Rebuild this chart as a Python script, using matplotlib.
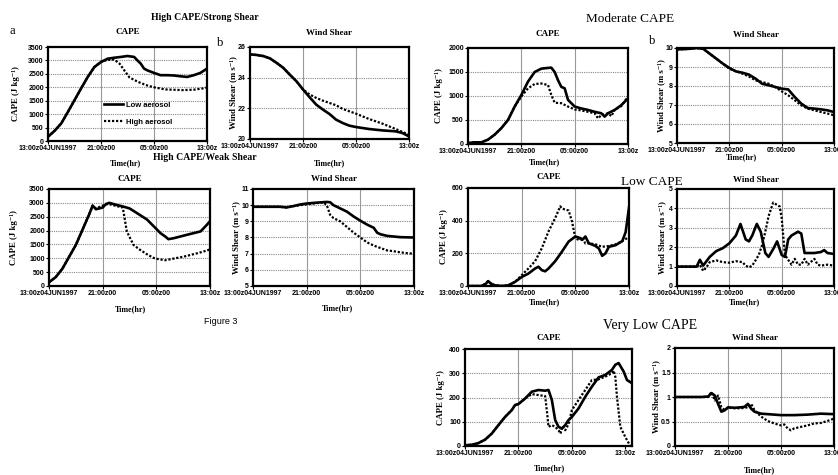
import matplotlib
matplotlib.use("Agg")
import matplotlib.pyplot as plt
from matplotlib.lines import Line2D

W, H = 838, 475

# ---------------- data ----------------
xtick_hours = [0, 8, 16, 24]
xtick_labels = ["13:00z04JUN1997", "21:00z00", "05:00z00", "13:00z"]

# High CAPE / Strong Shear - CAPE
hsc_low_t = [0, 1, 2, 3, 4, 5, 6, 7, 8, 9, 10, 11, 12, 13, 13.5, 14, 14.5, 15, 16, 17, 18, 19, 20, 21, 22, 23, 24]
hsc_low_v = [160, 380, 655, 1080, 1520, 1960, 2385, 2755, 2940, 3065, 3100, 3130, 3165, 3130, 3000, 2880, 2695, 2630,
             2535, 2450, 2450, 2440, 2410, 2385, 2450, 2535, 2695]
hsc_high_t = [0, 1, 2, 3, 4, 5, 6, 7, 8, 9, 10, 10.8, 11.5, 12.3, 13.6, 15.1, 16.2, 17.7, 20.3, 22, 23.3, 24]
hsc_high_v = [160, 380, 655, 1080, 1520, 1960, 2385, 2755, 2950, 3020, 3030, 2880, 2635, 2365, 2200, 2055, 1990, 1920,
              1895, 1910, 1955, 1990]

# High CAPE / Strong Shear - Wind shear
hss_low_t = [0, 1, 2, 3, 4, 5, 6, 7, 8, 9, 10, 11, 12, 13, 14, 15, 16, 18, 20, 22, 23, 24]
hss_low_v = [25.52, 25.48, 25.41, 25.26, 24.97, 24.65, 24.2, 23.77, 23.23, 22.72, 22.24, 21.92, 21.63, 21.26, 21.04,
             20.87, 20.78, 20.65, 20.56, 20.5, 20.39, 20.17]
hss_high_t = [0, 1, 2, 3, 4, 5, 6, 7, 8, 9, 10, 11, 12, 13, 14, 16, 18, 20, 22, 24]
hss_high_v = [25.52, 25.48, 25.41, 25.26, 24.97, 24.65, 24.2, 23.77, 23.23, 22.9, 22.68, 22.5, 22.35, 22.2, 21.96,
              21.65, 21.3, 21.0, 20.65, 20.28]

# Moderate CAPE - CAPE
mc_low_t = [0, 1, 2, 3, 4, 5, 6, 7, 8, 9, 10, 11, 12, 12.5, 13, 13.5, 14, 14.5, 15, 16, 17, 18, 19, 20, 20.5, 21, 22,
            23, 24]
mc_low_v = [20, 35, 35, 90, 195, 330, 500, 780, 1020, 1300, 1500, 1570, 1585, 1590, 1500, 1330, 1190, 1160, 920, 780,
            740, 710, 670, 640, 570, 640, 710, 810, 950]
mc_high_t = [0, 1, 2, 3, 4, 5, 6, 7, 8, 9, 10, 11, 12, 12.5, 13, 14, 15, 16, 17, 18, 19, 19.5, 20, 21, 21.5, 22, 23, 24]
mc_high_v = [20, 35, 35, 90, 195, 330, 500, 780, 990, 1160, 1250, 1260, 1230, 1020, 860, 850, 780, 720, 700, 670, 640,
             535, 600, 640, 580, 710, 790, 990]

# Moderate CAPE - Wind shear
ms_low_t = [0, 1, 2, 3, 4, 5, 6, 7, 8, 9, 10, 11, 12, 13, 14, 15, 16, 17, 18, 19, 20, 21, 22, 23, 24]
ms_low_v = [9.93, 9.94, 9.96, 10, 9.96, 9.7, 9.44, 9.18, 8.95, 8.77, 8.7, 8.6, 8.39, 8.12, 8.04, 7.95, 7.86, 7.82,
            7.42, 7.07, 6.84, 6.81, 6.77, 6.72, 6.63]
ms_high_t = [0, 1, 2, 3, 4, 5, 6, 7, 8, 9, 10, 11, 12, 13, 14, 15, 16, 17, 18, 19, 20, 21, 22, 23, 24]
ms_high_v = [9.93, 9.94, 9.96, 10, 9.96, 9.7, 9.44, 9.18, 8.91, 8.78, 8.65, 8.5, 8.3, 8.21, 8.12, 7.95, 7.72, 7.51,
             7.25, 6.98, 6.81, 6.72, 6.63, 6.55, 6.46]

# High CAPE / Weak Shear - CAPE
hwc_low_t = [0, 1, 2, 3, 4, 5, 6, 6.5, 7, 7.5, 8, 8.5, 9, 10, 11, 12, 12.6, 14.6, 16.1, 16.6, 17.3, 17.8, 18.6, 20.6,
             22.6, 23.5, 24]
hwc_low_v = [135, 320, 625, 1054, 1480, 2035, 2590, 2900, 2770, 2800, 2830, 2960, 3000, 2930, 2870, 2800, 2710, 2400,
             2035, 1910, 1790, 1690, 1725, 1850, 1970, 2200, 2340]
hwc_high_t = [0, 1, 2, 3, 4, 5, 6, 6.5, 7, 7.5, 8, 8.5, 9, 10, 11, 11.6, 12.6, 13.6, 14.8, 15.8, 17.3, 18, 19, 20, 21,
              22, 23, 24]
hwc_high_v = [135, 320, 625, 1054, 1480, 2035, 2590, 2900, 2800, 2850, 2900, 2950, 2950, 2890, 2830, 1970, 1480, 1300,
              1115, 990, 930, 960, 1010, 1054, 1115, 1175, 1240, 1320]

# High CAPE / Weak Shear - Wind shear
hws_low_t = [0, 2, 4, 5, 6, 7, 8, 9, 10, 11, 11.5, 12, 13, 14, 15, 16, 17, 18, 18.5, 19, 20, 21, 22, 24]
hws_low_v = [9.9, 9.9, 9.9, 9.86, 9.94, 10.04, 10.1, 10.14, 10.17, 10.2, 10.18, 10.0, 9.8, 9.6, 9.3, 9.04, 8.8, 8.6,
             8.3, 8.2, 8.1, 8.06, 8.02, 8.0]
hws_high_t = [0, 2, 4, 5, 6, 7, 8, 9, 10, 10.5, 11, 11.5, 12, 13, 14, 15, 16, 17, 18, 19, 20, 21, 22, 23, 24]
hws_high_v = [9.9, 9.9, 9.9, 9.86, 9.94, 10.0, 10.05, 10.1, 10.15, 10.17, 10.0, 9.4, 9.2, 9.0, 8.65, 8.3, 8.0, 7.7,
              7.5, 7.35, 7.2, 7.15, 7.08, 7.03, 7.0]

# Low CAPE - CAPE
lc_low_t = [0, 2, 2.7, 3, 3.4, 4, 5, 6, 7, 8, 9, 10, 10.5, 11, 11.5, 12, 13, 14, 15, 16, 16.5, 17, 17.5, 18, 19, 19.5,
            20, 20.5, 21, 22, 23, 23.5, 24]
lc_low_v = [0, 0, 15, 30, 15, 4, 0, 4, 25, 55, 76, 107, 118, 97, 90, 107, 152, 210, 272, 303, 297, 282, 303, 262, 245,
            230, 185, 200, 240, 250, 275, 330, 480]
lc_high_t = [0, 2, 2.7, 3, 3.4, 4, 5, 6, 7, 8, 9, 10, 11, 12, 13, 13.75, 14, 15, 15.5, 16, 16.5, 17, 17.5, 18, 19, 20,
             21, 22, 23, 24]
lc_high_v = [0, 0, 15, 30, 15, 4, 0, 4, 25, 66, 107, 152, 231, 334, 416, 488, 474, 462, 396, 293, 282, 300, 260, 262,
             255, 240, 245, 255, 275, 300]

# Low CAPE - Wind shear
ls_low_t = [0, 3, 3.5, 4, 5, 6, 7, 8, 9, 9.7, 10.5, 11, 11.5, 12.2, 12.8, 13.5, 14, 14.7, 15.3, 16, 16.5, 17, 17.5,
            18.5, 19, 19.5, 21, 22, 22.5, 23, 24]
ls_low_v = [1, 1, 1.35, 1.05, 1.5, 1.8, 1.95, 2.2, 2.6, 3.2, 2.4, 2.3, 2.6, 3.2, 2.8, 1.7, 1.5, 1.9, 2.3, 1.6, 1.5, 2.4,
            2.6, 2.8, 2.7, 1.7, 1.7, 1.75, 1.85, 1.7, 1.65]
ls_high_t = [0, 3, 3.5, 4, 4.5, 5, 6, 7, 8, 9, 10, 10.5, 11, 11.5, 12, 12.5, 13, 13.5, 14, 14.7, 15.2, 15.7, 16, 16.5,
             17, 17.5, 18, 18.5, 19, 19.5, 20, 21, 21.5, 22, 23, 24]
ls_high_v = [1, 1, 1.1, 0.78, 0.96, 1.23, 1.32, 1.23, 1.2, 1.28, 1.23, 1.05, 0.96, 1.05, 1.32, 1.6, 2.1, 2.8, 3.6, 4.3,
             4.2, 4.1, 3.5, 1.6, 1.35, 1.1, 1.4, 1.1, 1.1, 1.4, 1.1, 1.4, 1.1, 1.05, 1.1, 1.05]

# Very Low CAPE - CAPE
vc_low_t = [0, 1, 2, 3, 4, 5, 6, 7, 7.5, 8, 9, 10, 11, 12, 12.5, 13, 13.5, 14, 14.5, 15, 15.5, 16, 17, 18, 19, 20, 21,
            22, 22.5, 23, 23.75, 24.25, 25]
vc_low_v = [3, 5, 12, 26, 51, 86, 120, 148, 169, 173, 196, 224, 231, 228, 231, 190, 107, 79, 72, 86, 107, 120, 155, 203,
            245, 283, 293, 314, 335, 342, 307, 272, 259]
vc_high_t = [0, 1, 2, 3, 4, 5, 6, 7, 7.5, 8, 9, 10, 11, 12, 12.3, 12.5, 13, 13.5, 14, 14.3, 14.6, 15, 15.5, 16, 17, 18,
             19, 20, 21, 22, 22.25, 22.5, 22.75, 23.25, 24, 24.75, 25]
vc_high_v = [3, 5, 12, 26, 51, 86, 120, 148, 169, 173, 196, 214, 210, 206, 134, 79, 86, 79, 65, 51, 82, 65, 90, 148,
             190, 231, 272, 275, 286, 300, 311, 286, 203, 79, 37, 0, 0]

# Very Low CAPE - Wind shear
vs_low_t = [0, 4, 5, 5.5, 6, 6.5, 7, 7.5, 8, 9, 10, 10.5, 11, 11.5, 12, 13, 14, 16, 18, 20, 22, 24]
vs_low_v = [1.0, 1.0, 1.01, 1.08, 1.03, 0.86, 0.7, 0.73, 0.79, 0.78, 0.79, 0.8, 0.86, 0.76, 0.7, 0.66, 0.65, 0.63, 0.63,
            0.64, 0.66, 0.65]
vs_high_t = [0, 4, 5, 5.5, 6, 6.5, 7, 7.5, 8, 9, 10, 11, 11.5, 12, 13, 14, 15, 16, 16.5, 17, 17.5, 18, 19, 20, 21, 22,
             23, 24]
vs_high_v = [1.0, 1.0, 1.0, 1.1, 0.93, 1.03, 0.79, 0.73, 0.78, 0.77, 0.77, 0.79, 0.86, 0.73, 0.6, 0.51, 0.46, 0.42,
             0.44, 0.36, 0.32, 0.36, 0.39, 0.42, 0.46, 0.47, 0.51, 0.56]

legend_labels = ["Low aerosol", "High aerosol"]

# ---------------- figure ----------------
fig = plt.figure(figsize=(W / 100, H / 100), dpi=100)
fig.patch.set_facecolor("white")

SERIF = ["Liberation Serif", "DejaVu Serif"]
SANS = ["Liberation Sans", "DejaVu Sans"]


def ftext(x, y, s, **kw):
    fig.text(x / W, 1 - y / H, s, **kw)


def panel(box, xmax, yticks, low, high, title, title_y, xlab_x, xlab_y, ylab, ylab_x):
    l, t, r, b = box
    ax = fig.add_axes([l / W, 1 - b / H, (r - l) / W, (b - t) / H])
    ax.plot(low[0], low[1], color="black", lw=1.9, solid_joinstyle="round", zorder=3)
    ax.plot(high[0], high[1], color="black", lw=1.6, ls=(0, (1, 0.8)), zorder=3)
    ax.set_xlim(0, xmax)
    ax.set_ylim(yticks[0], yticks[-1])
    ax.set_xticks(xtick_hours)
    ax.set_xticklabels(xtick_labels, fontsize=5, fontweight="bold", family=SANS)
    ax.set_yticks(yticks)
    ax.set_yticklabels([("%g" % v) for v in yticks], fontsize=5, fontweight="bold", family=SANS)
    ax.tick_params(length=2, width=0.8, pad=1)
    for x in xtick_hours[1:-1]:
        ax.axvline(x, color="#999999", lw=0.8, zorder=1)
    for y in yticks[1:-1]:
        ax.axhline(y, color="#888888", lw=0.8, ls=(0, (1, 1)), zorder=1)
    for sp in ax.spines.values():
        sp.set_linewidth(1.6)
    cx = (l + r) / 2
    ftext(cx, title_y, title, ha="center", va="center", fontsize=6.5, fontweight="bold", family=SERIF)
    ftext(xlab_x, xlab_y, "Time(hr)", ha="center", va="center", fontsize=5.8, fontweight="bold", family=SERIF)
    ftext(ylab_x, (t + b) / 2, ylab, ha="center", va="center", rotation=90, fontsize=6.3,
          fontweight="bold", family=SERIF)
    return ax


CAPE_LAB = "CAPE (J kg\u207b\u00b9)"
WS_LAB = "Wind Shear (m s\u207b\u00b9)"

ax1 = panel((48, 47, 207, 141), 24, [0, 500, 1000, 1500, 2000, 2500, 3000, 3500],
            (hsc_low_t, hsc_low_v), (hsc_high_t, hsc_high_v), "CAPE", 32, 126, 163, CAPE_LAB, 16)
panel((250, 47, 409, 139), 24, [20, 22, 24, 26],
      (hss_low_t, hss_low_v), (hss_high_t, hss_high_v), "Wind Shear", 33, 330, 163, WS_LAB, 233)
panel((468, 48, 628, 144), 24, [0, 500, 1000, 1500, 2000],
      (mc_low_t, mc_low_v), (mc_high_t, mc_high_v), "CAPE", 34, 545, 162, CAPE_LAB, 439)
panel((677, 48, 834, 143), 24, [5, 6, 7, 8, 9, 10],
      (ms_low_t, ms_low_v), (ms_high_t, ms_high_v), "Wind Shear", 35, 742, 157, WS_LAB, 661)
panel((49, 189, 210, 286), 24, [0, 500, 1000, 1500, 2000, 2500, 3000, 3500],
      (hwc_low_t, hwc_low_v), (hwc_high_t, hwc_high_v), "CAPE", 179, 131, 309, CAPE_LAB, 14)
panel((253, 189, 414, 286), 24, [5, 6, 7, 8, 9, 10, 11],
      (hws_low_t, hws_low_v), (hws_high_t, hws_high_v), "Wind Shear", 179, 338, 308, WS_LAB, 236)
panel((468, 188, 629, 286), 24, [0, 200, 400, 600],
      (lc_low_t, lc_low_v), (lc_high_t, lc_high_v), "CAPE", 177, 545, 302, CAPE_LAB, 444)
panel((677, 189, 834, 286), 24, [0, 1, 2, 3, 4, 5],
      (ls_low_t, ls_low_v), (ls_high_t, ls_high_v), "Wind Shear", 180, 745, 302, WS_LAB, 662)
panel((465, 349, 632, 446), 25, [0, 100, 200, 300, 400],
      (vc_low_t, vc_low_v), (vc_high_t, vc_high_v), "CAPE", 338, 550, 468, CAPE_LAB, 441)
panel((675, 348, 834, 446), 24, [0, 0.5, 1, 1.5, 2],
      (vs_low_t, vs_low_v), (vs_high_t, vs_high_v), "Wind Shear", 338, 760, 470, WS_LAB, 656)

# legend in first panel
handles = [Line2D([], [], color="black", lw=1.9),
           Line2D([], [], color="black", lw=1.6, ls=(0, (1, 0.8)))]
leg = ax1.legend(handles, legend_labels, loc="upper left", bbox_to_anchor=(0.33, 0.45), frameon=False,
                 prop={"family": SANS, "weight": "bold", "size": 5.5}, handlelength=2.6, handletextpad=0.3,
                 labelspacing=1.25, borderaxespad=0)

# group titles and labels
ftext(205, 17, "High CAPE/Strong Shear", ha="center", va="center", fontsize=7, fontweight="bold", family=SERIF)
ftext(630, 19, "Moderate CAPE", ha="center", va="center", fontsize=9.5, family=SERIF)
ftext(205, 157, "High CAPE/Weak Shear", ha="center", va="center", fontsize=7, fontweight="bold", family=SERIF)
ftext(652, 182, "Low CAPE", ha="center", va="center", fontsize=9.5, family=SERIF)
ftext(650, 325, "Very Low CAPE", ha="center", va="center", fontsize=10, family=SERIF)
ftext(221, 322, "Figure 3", ha="center", va="center", fontsize=6.5, family=SANS)
ftext(12, 31, "a", ha="center", va="center", fontsize=9, family=SERIF)
ftext(220, 43, "b", ha="center", va="center", fontsize=9, family=SERIF)
ftext(652, 41, "b", ha="center", va="center", fontsize=9, family=SERIF)

fig.savefig("out.png", dpi=100, facecolor="white")
